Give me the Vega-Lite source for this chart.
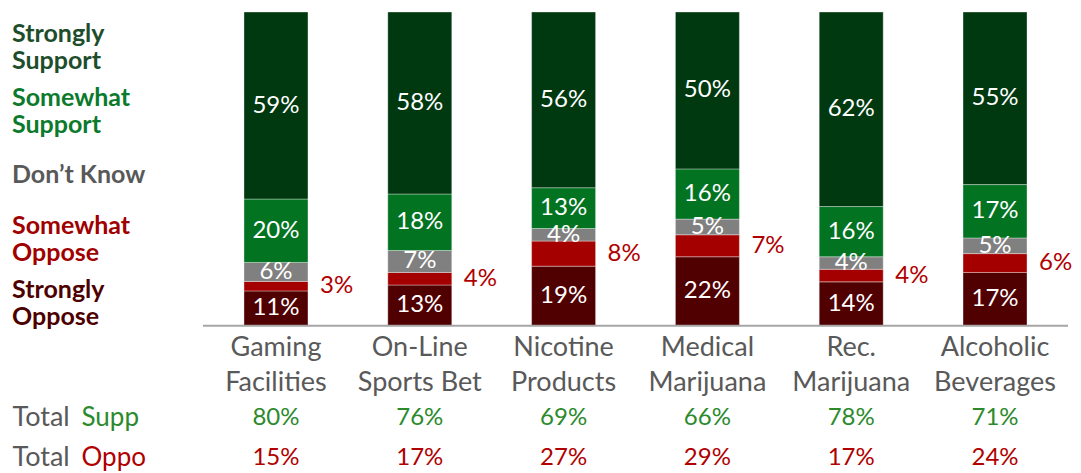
{
  "$schema": "https://vega.github.io/schema/vega-lite/v6.json",
  "width": 865,
  "height": 455,
  "autosize": {"type": "none"},
  "padding": {"left": 203, "right": 13, "top": 12, "bottom": 6},
  "config": {"view": {"stroke": null}, "font": "Lato"},
  "resolve": {"axis": {"y": "independent"}},
  "layer": [
    {
      "data": {"name": "responses", "values": [
        {"category": "Gaming Facilities", "response": "Strongly Oppose", "level": 1, "value": 0.11},
        {"category": "Gaming Facilities", "response": "Somewhat Oppose", "level": 2, "value": 0.03},
        {"category": "Gaming Facilities", "response": "Don’t Know", "level": 3, "value": 0.06},
        {"category": "Gaming Facilities", "response": "Somewhat Support", "level": 4, "value": 0.20},
        {"category": "Gaming Facilities", "response": "Strongly Support", "level": 5, "value": 0.59},
        {"category": "On-Line Sports Bet", "response": "Strongly Oppose", "level": 1, "value": 0.13},
        {"category": "On-Line Sports Bet", "response": "Somewhat Oppose", "level": 2, "value": 0.04},
        {"category": "On-Line Sports Bet", "response": "Don’t Know", "level": 3, "value": 0.07},
        {"category": "On-Line Sports Bet", "response": "Somewhat Support", "level": 4, "value": 0.18},
        {"category": "On-Line Sports Bet", "response": "Strongly Support", "level": 5, "value": 0.58},
        {"category": "Nicotine Products", "response": "Strongly Oppose", "level": 1, "value": 0.19},
        {"category": "Nicotine Products", "response": "Somewhat Oppose", "level": 2, "value": 0.08},
        {"category": "Nicotine Products", "response": "Don’t Know", "level": 3, "value": 0.04},
        {"category": "Nicotine Products", "response": "Somewhat Support", "level": 4, "value": 0.13},
        {"category": "Nicotine Products", "response": "Strongly Support", "level": 5, "value": 0.56},
        {"category": "Medical Marijuana", "response": "Strongly Oppose", "level": 1, "value": 0.22},
        {"category": "Medical Marijuana", "response": "Somewhat Oppose", "level": 2, "value": 0.07},
        {"category": "Medical Marijuana", "response": "Don’t Know", "level": 3, "value": 0.05},
        {"category": "Medical Marijuana", "response": "Somewhat Support", "level": 4, "value": 0.16},
        {"category": "Medical Marijuana", "response": "Strongly Support", "level": 5, "value": 0.50},
        {"category": "Rec. Marijuana", "response": "Strongly Oppose", "level": 1, "value": 0.14},
        {"category": "Rec. Marijuana", "response": "Somewhat Oppose", "level": 2, "value": 0.04},
        {"category": "Rec. Marijuana", "response": "Don’t Know", "level": 3, "value": 0.04},
        {"category": "Rec. Marijuana", "response": "Somewhat Support", "level": 4, "value": 0.16},
        {"category": "Rec. Marijuana", "response": "Strongly Support", "level": 5, "value": 0.62},
        {"category": "Alcoholic Beverages", "response": "Strongly Oppose", "level": 1, "value": 0.17},
        {"category": "Alcoholic Beverages", "response": "Somewhat Oppose", "level": 2, "value": 0.06},
        {"category": "Alcoholic Beverages", "response": "Don’t Know", "level": 3, "value": 0.05},
        {"category": "Alcoholic Beverages", "response": "Somewhat Support", "level": 4, "value": 0.17},
        {"category": "Alcoholic Beverages", "response": "Strongly Support", "level": 5, "value": 0.55}
      ]},
      "mark": {"type": "bar", "stroke": "#ffffff", "strokeOpacity": 0.35, "strokeWidth": 1},
      "encoding": {
        "x": {
          "field": "category",
          "type": "nominal",
          "sort": ["Gaming Facilities", "On-Line Sports Bet", "Nicotine Products", "Medical Marijuana", "Rec. Marijuana", "Alcoholic Beverages"],
          "scale": {"paddingInner": 0.555, "paddingOuter": 0.285},
          "axis": null
        },
        "y": {
          "field": "value",
          "type": "quantitative",
          "stack": "normalize",
          "scale": {"domain": [-0.45, 1], "nice": false, "zero": false},
          "axis": {
            "orient": "left",
            "values": [-0.293, -0.42],
            "labelExpr": "'Total'",
            "labelAlign": "left",
            "labelPadding": 191,
            "ticks": false,
            "tickSize": 0,
            "domain": false,
            "grid": false,
            "title": null,
            "labelColor": "#595959",
            "labelFontSize": 27,
            "labelBaseline": "middle",
            "labelLimit": 0,
            "labelOverlap": false
          }
        },
        "color": {
          "field": "response",
          "type": "nominal",
          "scale": {
            "domain": ["Strongly Support", "Somewhat Support", "Don’t Know", "Somewhat Oppose", "Strongly Oppose"],
            "range": ["#00380f", "#027321", "#808080", "#a50000", "#500000"]
          },
          "legend": {
            "orient": "none",
            "legendX": -241,
            "legendY": 2.5,
            "title": null,
            "padding": 0,
            "symbolType": "square",
            "symbolSize": 2500,
            "symbolOpacity": 0,
            "symbolStrokeWidth": 0,
            "labelOffset": 0,
            "clipHeight": 64,
            "rowPadding": 0,
            "labelFontSize": 25,
            "labelFontWeight": "bold",
            "labelLimit": 0,
            "labelBaseline": {"expr": "datum.value == 'Don’t Know' ? 'middle' : 'bottom'"},
            "labelColor": {"expr": "datum.value == 'Strongly Support' ? '#1e4d2b' : datum.value == 'Somewhat Support' ? '#0b7a2c' : datum.value == 'Somewhat Oppose' ? '#a00000' : datum.value == 'Strongly Oppose' ? '#4d0000' : '#595959'"},
            "labelExpr": "datum.label == 'Don’t Know' ? datum.label : split(datum.label, ' ')"
          }
        },
        "order": {"field": "level", "type": "ordinal"}
      }
    },
    {
      "data": {"name": "responses"},
      "mark": {"type": "text", "fill": "#ffffff", "fontSize": 24, "align": "center", "baseline": "middle"},
      "encoding": {
        "x": {"field": "category", "type": "nominal", "sort": ["Gaming Facilities", "On-Line Sports Bet", "Nicotine Products", "Medical Marijuana", "Rec. Marijuana", "Alcoholic Beverages"], "axis": null},
        "y": {"field": "value", "type": "quantitative", "stack": "normalize", "bandPosition": 0.5, "scale": {"domain": [-0.45, 1], "nice": false, "zero": false}, "axis": null},
        "detail": {"field": "response", "type": "nominal"},
        "order": {"field": "level", "type": "ordinal"},
        "text": {"field": "value", "type": "quantitative", "format": ".0%"},
        "opacity": {"condition": {"test": "datum.response === 'Somewhat Oppose'", "value": 0}, "value": 1}
      }
    },
    {
      "data": {"name": "responses"},
      "mark": {"type": "text", "fill": "#b00000", "fontSize": 24, "align": "left", "baseline": "middle", "dx": 12},
      "encoding": {
        "x": {"field": "category", "type": "nominal", "sort": ["Gaming Facilities", "On-Line Sports Bet", "Nicotine Products", "Medical Marijuana", "Rec. Marijuana", "Alcoholic Beverages"], "bandPosition": 1, "axis": null},
        "y": {"field": "value", "type": "quantitative", "stack": "normalize", "bandPosition": 0.5, "scale": {"domain": [-0.45, 1], "nice": false, "zero": false}, "axis": null},
        "detail": {"field": "response", "type": "nominal"},
        "order": {"field": "level", "type": "ordinal"},
        "text": {"field": "value", "type": "quantitative", "format": ".0%"},
        "opacity": {"condition": {"test": "datum.response === 'Somewhat Oppose'", "value": 1}, "value": 0}
      }
    },
    {
      "data": {"values": [{}]},
      "mark": {"type": "rule", "color": "#a6a6a6", "strokeWidth": 2},
      "encoding": {
        "y": {"datum": 0, "type": "quantitative", "scale": {"domain": [-0.45, 1], "nice": false, "zero": false}, "axis": null}
      }
    },
    {
      "data": {"name": "totals", "values": [
        {"category": "Gaming Facilities", "label": ["Gaming", "Facilities"], "supp": 0.80, "oppo": 0.15},
        {"category": "On-Line Sports Bet", "label": ["On-Line", "Sports Bet"], "supp": 0.76, "oppo": 0.17},
        {"category": "Nicotine Products", "label": ["Nicotine", "Products"], "supp": 0.69, "oppo": 0.27},
        {"category": "Medical Marijuana", "label": ["Medical", "Marijuana"], "supp": 0.66, "oppo": 0.29},
        {"category": "Rec. Marijuana", "label": ["Rec.", "Marijuana"], "supp": 0.78, "oppo": 0.17},
        {"category": "Alcoholic Beverages", "label": ["Alcoholic", "Beverages"], "supp": 0.71, "oppo": 0.24}
      ]},
      "mark": {"type": "text", "fill": "#2b8a2b", "fontSize": 24, "align": "center", "baseline": "middle"},
      "encoding": {
        "x": {"field": "category", "type": "nominal", "sort": ["Gaming Facilities", "On-Line Sports Bet", "Nicotine Products", "Medical Marijuana", "Rec. Marijuana", "Alcoholic Beverages"], "axis": null},
        "y": {
          "datum": -0.293,
          "type": "quantitative",
          "scale": {"domain": [-0.45, 1], "nice": false, "zero": false},
          "axis": {
            "orient": "left",
            "values": [-0.293, -0.42],
            "labelExpr": "datum.value < -0.35 ? 'Oppo' : 'Supp'",
            "labelColor": {"condition": {"test": "datum.value < -0.35", "value": "#b00000"}, "value": "#2b8a2b"},
            "labelAlign": "left",
            "labelPadding": 122,
            "ticks": false,
            "tickSize": 0,
            "domain": false,
            "grid": false,
            "title": null,
            "labelFontSize": 26,
            "labelBaseline": "middle",
            "labelLimit": 0,
            "labelOverlap": false
          }
        },
        "text": {"field": "supp", "type": "quantitative", "format": ".0%"}
      }
    },
    {
      "data": {"name": "totals"},
      "mark": {"type": "text", "fill": "#b00000", "fontSize": 24, "align": "center", "baseline": "middle"},
      "encoding": {
        "x": {"field": "category", "type": "nominal", "sort": ["Gaming Facilities", "On-Line Sports Bet", "Nicotine Products", "Medical Marijuana", "Rec. Marijuana", "Alcoholic Beverages"], "axis": null},
        "y": {"datum": -0.42, "type": "quantitative", "scale": {"domain": [-0.45, 1], "nice": false, "zero": false}, "axis": null},
        "text": {"field": "oppo", "type": "quantitative", "format": ".0%"}
      }
    },
    {
      "data": {"name": "totals"},
      "mark": {"type": "text", "fill": "#595959", "fontSize": 27, "lineHeight": 35, "align": "center", "baseline": "middle"},
      "encoding": {
        "x": {"field": "category", "type": "nominal", "sort": ["Gaming Facilities", "On-Line Sports Bet", "Nicotine Products", "Medical Marijuana", "Rec. Marijuana", "Alcoholic Beverages"], "axis": null},
        "y": {"datum": -0.0707, "type": "quantitative", "scale": {"domain": [-0.45, 1], "nice": false, "zero": false}, "axis": null},
        "text": {"field": "label", "type": "nominal"}
      }
    }
  ]
}
